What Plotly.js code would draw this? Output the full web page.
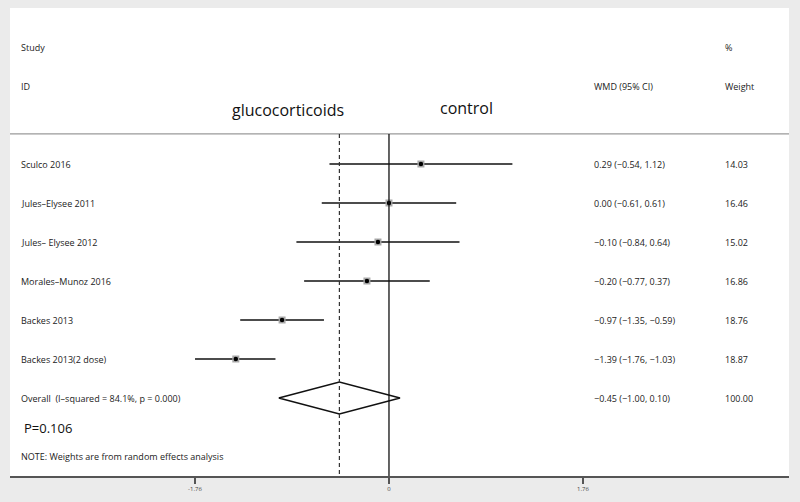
<!DOCTYPE html>
<html>
<head>
<meta charset="utf-8">
<script src="https://cdn.plot.ly/plotly-3.0.1.min.js"></script>
<style>html,body{margin:0;padding:0;background:#ebebeb;}#chart{width:800px;height:502px;}</style>
</head>
<body>
<div id="chart"></div>
<script>
// ---- data ----
var studies = ["Sculco 2016", "Jules–Elysee 2011", "Jules– Elysee 2012", "Morales–Munoz 2016", "Backes 2013", "Backes 2013(2 dose)"];
var estimates = [0.29, 0.00, -0.10, -0.20, -0.97, -1.39];
var lower = [-0.54, -0.61, -0.84, -0.77, -1.35, -1.76];
var upper = [1.12, 0.61, 0.64, 0.37, -0.59, -1.03];
var weights = ["14.03", "16.46", "15.02", "16.86", "18.76", "18.87"];
var overallLabel = "Overall  (I–squared = 84.1%, p = 0.000)";
var overallEst = -0.45, overallLo = -1.00, overallHi = 0.10, overallWeight = "100.00";
var tickVals = [-1.76, 0, 1.76];
var tickText = ["-1.76", "0", "1.76"];

function fmt(v){ return (v < 0 ? "−" : "") + Math.abs(v).toFixed(2); }
function ci(e, l, h){ return fmt(e) + " (" + fmt(l) + ", " + fmt(h) + ")"; }

var rows = studies.map(function(_, i){ return i + 1; });
var overallRow = studies.length + 1;

var txtFont = {family: "Open Sans, sans-serif", size: 9, color: "#222"};

var traces = [
  {
    x: estimates, y: rows, type: "scatter", mode: "markers",
    marker: {symbol: "square", size: 7, color: "#a8a8a8"},
    error_x: {type: "data", symmetric: false,
      array: upper.map(function(u, i){ return u - estimates[i]; }),
      arrayminus: lower.map(function(l, i){ return estimates[i] - l; }),
      width: 0, thickness: 1.5, color: "#111"},
    hoverinfo: "skip", showlegend: false
  },
  {
    x: estimates, y: rows, type: "scatter", mode: "markers",
    marker: {symbol: "circle", size: 4.5, color: "#000"},
    hoverinfo: "skip", showlegend: false
  },
  {
    x: [overallLo, overallEst, overallHi, overallEst, overallLo],
    y: [overallRow, overallRow - 0.41, overallRow, overallRow + 0.41, overallRow],
    type: "scatter", mode: "lines", fill: "toself", fillcolor: "#fff",
    line: {color: "#111", width: 1.5}, hoverinfo: "skip", showlegend: false
  }
];

var annotations = [];
function ann(text, x, y, xanchor, font, xref){
  annotations.push({text: text, x: x, y: y, xref: xref || "paper", yref: "y",
    xanchor: xanchor, yanchor: "middle", showarrow: false, font: font || txtFont});
}
var leftX = 0.0116, wmdX = 0.747, wtX = 0.915;
ann("Study", leftX, -2, "left");
ann("ID", leftX, -1, "left");
ann("%", wtX, -2, "left");
ann("Weight", wtX, -1, "left");
ann("WMD (95% CI)", wmdX, -1, "left");
ann("glucocorticoids", -0.92, -0.38, "center", {family: "Open Sans, sans-serif", size: 16, color: "#111"}, "x");
ann("control", 0.70, -0.44, "center", {family: "Open Sans, sans-serif", size: 16, color: "#111"}, "x");
studies.forEach(function(s, i){
  ann(s, leftX, rows[i], "left");
  ann(ci(estimates[i], lower[i], upper[i]), wmdX, rows[i], "left");
  ann(weights[i], wtX, rows[i], "left");
});
ann(overallLabel, leftX, overallRow, "left");
ann(ci(overallEst, overallLo, overallHi), wmdX, overallRow, "left");
ann(overallWeight, wtX, overallRow, "left");
ann("P=0.106", 0.015, 7.77, "left", {family: "Open Sans, sans-serif", size: 13, color: "#111"});
ann("NOTE: Weights are from random effects analysis", leftX, 8.51, "left");

var shapes = [
  {type: "line", xref: "paper", yref: "y", x0: 0, x1: 1, y0: 0.23, y1: 0.23, line: {color: "#9a9a9a", width: 1.2}},
  {type: "line", xref: "x", yref: "y", x0: 0, x1: 0, y0: 0.23, y1: 9, line: {color: "#111", width: 1.3}},
  {type: "line", xref: "x", yref: "y", x0: overallEst, x1: overallEst, y0: 0.23, y1: 9, line: {color: "#333", width: 1.2, dash: "4px,3px"}}
];

var layout = {
  width: 800, height: 502,
  margin: {l: 10, r: 11, t: 8, b: 26},
  paper_bgcolor: "#ebebeb", plot_bgcolor: "#ffffff",
  showlegend: false,
  xaxis: {range: [-3.439, 3.630], showgrid: false, zeroline: false,
    showline: true, linecolor: "#555", linewidth: 1.5,
    ticks: "outside", ticklen: 6, tickwidth: 1.5, tickcolor: "#555",
    tickvals: tickVals, ticktext: tickText,
    tickfont: {family: "Open Sans, sans-serif", size: 6, color: "#444"}, fixedrange: true},
  yaxis: {range: [9, -3], showgrid: false, zeroline: false, showline: false,
    showticklabels: false, ticks: "", fixedrange: true},
  shapes: shapes,
  annotations: annotations
};

Plotly.newPlot("chart", traces, layout, {displayModeBar: false, staticPlot: true});
</script>
</body>
</html>
